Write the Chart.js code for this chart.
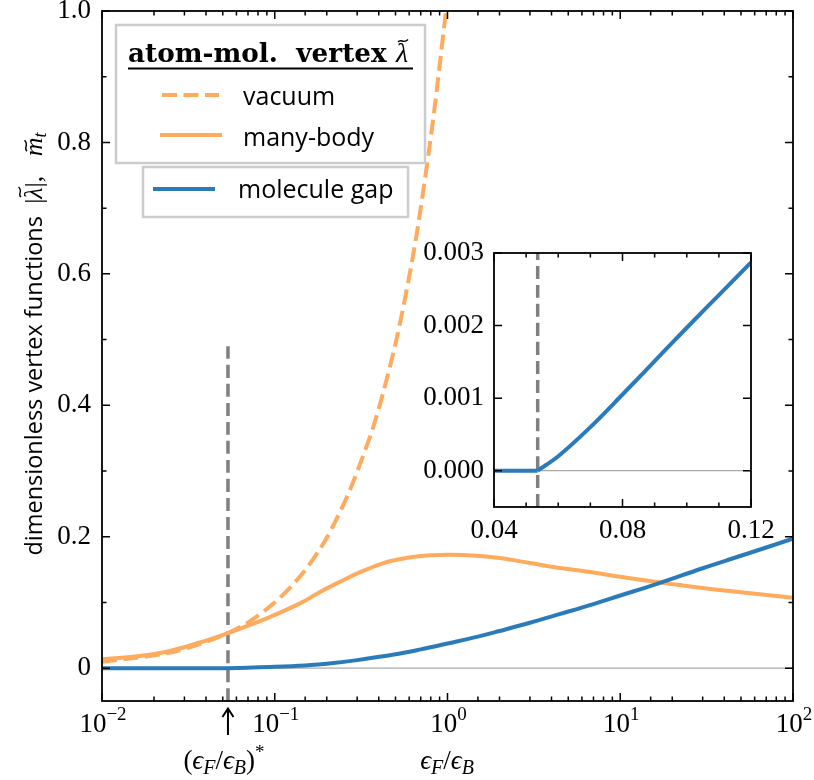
<!DOCTYPE html>
<html>
<head>
<meta charset="utf-8">
<script src="https://cdn.jsdelivr.net/npm/chart.js@4.4.0/dist/chart.umd.min.js"></script>
<style>
html, body { margin: 0; padding: 0; background: #fff; }
#wrap { position: relative; width: 814px; height: 780px; }
#main { position: absolute; left: 0; top: 0; }
#inset { position: absolute; left: 404px; top: 233px; }
</style>
</head>
<body>
<div id="wrap">
  <canvas id="main" width="814" height="780"></canvas>
  <canvas id="inset" width="400" height="310"></canvas>
</div>
<script>
// values
const criticalRatio = 0.0536;

const vacuumX = [0.01, 0.02, 0.03, 0.0536, 0.08, 0.12, 0.17, 0.23, 0.31, 0.41, 0.57, 0.76, 0.98, 1.05];
const vacuumY = [0.0097, 0.0195, 0.0295, 0.0535, 0.080, 0.120, 0.169, 0.229, 0.309, 0.405, 0.565, 0.765, 1.0, 1.075];

const manyBodyX = [0.01, 0.016, 0.0236, 0.0369, 0.0536, 0.0898, 0.14, 0.183, 0.239, 0.312, 0.406, 0.5, 0.7, 1, 1.4, 2, 3, 4.48, 7, 10, 16.3, 30, 50, 100];
const manyBodyY = [0.0137, 0.018, 0.025, 0.039, 0.0533, 0.0757, 0.0985, 0.116, 0.1315, 0.146, 0.158, 0.1645, 0.1705, 0.1725, 0.1715, 0.1675, 0.160, 0.1525, 0.1455, 0.139, 0.131, 0.122, 0.1155, 0.107];

const gapX = [0.01, 0.02, 0.03, 0.04, 0.0536, 0.07, 0.1, 0.15, 0.2, 0.3, 0.5, 0.7, 1, 1.5, 2, 3, 4.5, 7, 10, 16, 30, 50, 100];
const gapY = [0, 0, 0, 0, 0, 0.0007, 0.002, 0.0042, 0.0066, 0.0122, 0.021, 0.0285, 0.0375, 0.048, 0.0565, 0.069, 0.0825, 0.0975, 0.1105, 0.1275, 0.152, 0.171, 0.197];

const insetGapX = [0.04, 0.0536, 0.06, 0.07, 0.08, 0.09, 0.10, 0.11, 0.12];
const insetGapY = [0, 0, 0.00020, 0.00060, 0.00105, 0.00151, 0.00197, 0.00242, 0.00287];

const yTicks = [0, 0.1, 0.2, 0.3, 0.4, 0.5, 0.6, 0.7, 0.8, 0.9, 1.0];
const yLabelled = [0, 0.2, 0.4, 0.6, 0.8, 1.0];
const xDecades = [-2, -1, 0, 1, 2];
const insetXTicks = [0.04, 0.05, 0.06, 0.07, 0.08, 0.09, 0.10, 0.11, 0.12];
const insetXLabelled = [0.04, 0.08, 0.12];
const insetYTicks = [0, 0.001, 0.002, 0.003];

const ORANGE = '#ffab5e';
const BLUE = '#2b7bba';
const GREY = '#808080';
const SERIF = '"Liberation Serif", "DejaVu Serif", serif';
const SANS = '"Open Sans", "DejaVu Sans", sans-serif';

Chart.defaults.color = '#000';

const pts = (xs, ys) => xs.map((x, i) => ({ x: x, y: ys[i] }));
const near = (a, list) => list.some(v => Math.abs(v - a) < 1e-9);
// the gap is flat below the critical ratio, keep the corner sharp
const below = (xs, ys) => pts(xs, ys).filter(p => p.x <= criticalRatio + 1e-9);
const above = (xs, ys) => pts(xs, ys).filter(p => p.x >= criticalRatio - 1e-9);

function tilde(ctx, cx, y, w) {
    const x0 = cx - w / 2;
    ctx.save();
    ctx.lineWidth = 1.4;
    ctx.strokeStyle = '#000';
    ctx.beginPath();
    ctx.moveTo(x0, y + 1);
    ctx.bezierCurveTo(x0 + w * 0.3, y - 3, x0 + w * 0.55, y + 3.5, x0 + w, y - 1.5);
    ctx.stroke();
    ctx.restore();
}

// write a row of text pieces (for sub/superscripts), centred on x
function drawPieces(ctx, pieces, x, y, align) {
    let total = 0;
    pieces.forEach(p => { ctx.font = p.f; p.w = ctx.measureText(p.t).width; total += p.w; });
    let cx = align === 'left' ? x : x - total / 2;
    ctx.textAlign = 'left';
    ctx.textBaseline = 'alphabetic';
    pieces.forEach(p => {
        ctx.font = p.f;
        ctx.fillText(p.t, cx, y + (p.dy || 0));
        if (p.tilde) tilde(ctx, cx + p.w / 2 + p.tilde[0], y - p.tilde[1], p.tilde[2]);
        cx += p.w;
    });
    return total;
}

// inward ticks on all four sides plus the box
function drawFrame(chart, xMajor, yMajor) {
    const ctx = chart.ctx, a = chart.chartArea;
    const xs = chart.scales.x, ys = chart.scales.y;
    ctx.save();
    ctx.strokeStyle = '#000';
    ctx.lineWidth = 1.5;
    ctx.beginPath();
    xs.ticks.forEach(t => {
        const px = xs.getPixelForValue(t.value);
        if (px < a.left - 0.5 || px > a.right + 0.5) return;
        const len = xMajor(t.value) ? 8 : 4.5;
        ctx.moveTo(px, a.bottom); ctx.lineTo(px, a.bottom - len);
        ctx.moveTo(px, a.top); ctx.lineTo(px, a.top + len);
    });
    ys.ticks.forEach(t => {
        const py = ys.getPixelForValue(t.value);
        if (py < a.top - 0.5 || py > a.bottom + 0.5) return;
        const len = yMajor(t.value) ? 8 : 4.5;
        ctx.moveTo(a.left, py); ctx.lineTo(a.left + len, py);
        ctx.moveTo(a.right, py); ctx.lineTo(a.right - len, py);
    });
    ctx.stroke();
    ctx.lineWidth = 1.8;
    ctx.strokeRect(a.left, a.top, a.right - a.left, a.bottom - a.top);
    ctx.restore();
}

const mainDecor = {
    id: 'mainDecor',
    afterDatasetsDraw(chart) {
        drawFrame(chart,
            v => Math.abs(Math.log10(v) - Math.round(Math.log10(v))) < 1e-6,
            v => near(v, yLabelled));
    },
    afterDraw(chart) {
        const ctx = chart.ctx, xs = chart.scales.x;
        ctx.save();
        ctx.fillStyle = '#000';

        // x tick labels 10^n
        xDecades.forEach(n => {
            const px = xs.getPixelForValue(Math.pow(10, n));
            const exp = n < 0 ? '\u2212' + Math.abs(n) : String(n);
            drawPieces(ctx, [
                { t: '10', f: '27px ' + SERIF },
                { t: exp, f: '19px ' + SERIF, dy: -12 }
            ], px + 1, 732);
        });

        // x axis label and the critical ratio marker
        const it = '27px ' + SERIF, itI = 'italic 27px ' + SERIF, sub = 'italic 20px ' + SERIF;
        drawPieces(ctx, [
            { t: '\u03f5', f: itI }, { t: 'F', f: sub, dy: 5 }, { t: '/', f: it },
            { t: '\u03f5', f: itI }, { t: 'B', f: sub, dy: 5 }
        ], 447, 769);
        const cpx = xs.getPixelForValue(criticalRatio);
        drawPieces(ctx, [
            { t: '(', f: it }, { t: '\u03f5', f: itI }, { t: 'F', f: sub, dy: 5 }, { t: '/', f: it },
            { t: '\u03f5', f: itI }, { t: 'B', f: sub, dy: 5 }, { t: ')', f: it },
            { t: '*', f: '19px ' + SERIF, dy: -11 }
        ], cpx - 4, 769);
        ctx.strokeStyle = '#000';
        ctx.lineWidth = 2;
        ctx.beginPath();
        ctx.moveTo(cpx, 735); ctx.lineTo(cpx, 709);
        ctx.moveTo(cpx - 5.5, 717); ctx.lineTo(cpx, 708.5); ctx.lineTo(cpx + 5.5, 717);
        ctx.stroke();

        // y axis title
        ctx.save();
        ctx.translate(42, 344);
        ctx.rotate(-Math.PI / 2);
        drawPieces(ctx, [
            { t: 'dimensionless vertex functions  ', f: '23.5px ' + SANS },
            { t: '|', f: '26px ' + SERIF },
            { t: '\u03bb', f: 'italic 26px ' + SERIF, tilde: [1, 22, 10] },
            { t: '|,   ', f: '26px ' + SERIF },
            { t: 'm', f: 'italic 26px ' + SERIF, tilde: [1, 16, 11] },
            { t: 't', f: 'italic 18px ' + SERIF, dy: 4 }
        ], 0, 0);
        ctx.restore();

        // legends
        ctx.lineWidth = 2.5;
        ctx.strokeStyle = '#cccccc';
        ctx.fillStyle = 'rgba(255,255,255,0.85)';
        ctx.fillRect(116, 25, 309, 138);
        ctx.strokeRect(116, 25, 309, 138);
        ctx.fillRect(143, 167, 265, 50);
        ctx.strokeRect(143, 167, 265, 50);

        ctx.fillStyle = '#000';
        ctx.textAlign = 'left';
        const head = 'atom-mol.  vertex ';
        ctx.font = 'bold 24px "DejaVu Serif", serif';
        const size = 24 * 268 / ctx.measureText(head).width;
        ctx.font = 'bold ' + size.toFixed(1) + 'px "DejaVu Serif", serif';
        ctx.fillText(head, 128, 62);
        ctx.font = 'italic 28px ' + SERIF;
        ctx.fillText('\u03bb', 396, 62);
        tilde(ctx, 403, 41, 10);
        ctx.strokeStyle = '#000';
        ctx.lineWidth = 2;
        ctx.beginPath();
        ctx.moveTo(128, 68.5); ctx.lineTo(413, 68.5);
        ctx.stroke();

        ctx.lineWidth = 4;
        ctx.strokeStyle = ORANGE;
        ctx.setLineDash([15, 6.5]);
        ctx.beginPath(); ctx.moveTo(162, 95); ctx.lineTo(219, 95); ctx.stroke();
        ctx.setLineDash([]);
        ctx.beginPath(); ctx.moveTo(160, 135); ctx.lineTo(222, 135); ctx.stroke();
        ctx.strokeStyle = BLUE;
        ctx.beginPath(); ctx.moveTo(153, 189); ctx.lineTo(215, 189); ctx.stroke();

        ctx.font = '25px ' + SANS;
        ctx.fillText('vacuum', 243, 105);
        ctx.fillText('many-body', 243, 146);
        ctx.fillText('molecule gap', 238, 198);
        ctx.restore();
    }
};

const smooth = { cubicInterpolationMode: 'default', tension: 0.4 };

new Chart(document.getElementById('main'), {
    type: 'line',
    data: {
        datasets: [
            { label: 'molecule gap', data: above(gapX, gapY), borderColor: BLUE, borderWidth: 4, ...smooth },
            { label: 'molecule gap (flat)', data: below(gapX, gapY), borderColor: BLUE, borderWidth: 4 },
            { label: 'many-body', data: pts(manyBodyX, manyBodyY), borderColor: ORANGE, borderWidth: 4, ...smooth },
            { label: 'vacuum', data: pts(vacuumX, vacuumY), borderColor: ORANGE, borderWidth: 4, borderDash: [15, 6.5], ...smooth },
            { label: 'critical', data: pts([criticalRatio, criticalRatio], [-0.05, 0.49]), borderColor: GREY, borderWidth: 3.5, borderDash: [13, 6] },
            { label: 'zero', data: pts([0.01, 100], [0, 0]), borderColor: '#aaaaaa', borderWidth: 1.3 }
        ]
    },
    options: {
        responsive: false,
        animation: false,
        elements: { point: { radius: 0 }, line: { cubicInterpolationMode: 'monotone' } },
        layout: { padding: { top: 11, right: 21, left: 0, bottom: 0 } },
        plugins: { legend: { display: false }, tooltip: { enabled: false } },
        scales: {
            x: {
                type: 'logarithmic',
                min: 0.01,
                max: 100,
                grid: { display: false, drawTicks: false },
                border: { display: false },
                ticks: { display: false },
                afterFit: s => { s.height = 79; s.paddingLeft = 0; s.paddingRight = 0; }
            },
            y: {
                min: -0.05,
                max: 1.0,
                grid: { display: false, drawTicks: false },
                border: { display: false },
                afterBuildTicks: s => { s.ticks = yTicks.map(v => ({ value: v })); },
                ticks: {
                    autoSkip: false,
                    padding: 11,
                    font: { family: SERIF, size: 27 },
                    callback: v => near(v, yLabelled) ? (v === 0 ? '0' : v.toFixed(1)) : ''
                },
                afterFit: s => { s.width = 102; s.paddingTop = 0; s.paddingBottom = 0; }
            }
        }
    },
    plugins: [mainDecor]
});

const insetDecor = {
    id: 'insetDecor',
    beforeDatasetsDraw(chart) {
        const ctx = chart.ctx, a = chart.chartArea;
        ctx.save();
        ctx.fillStyle = '#fff';
        ctx.fillRect(a.left, a.top, a.right - a.left, a.bottom - a.top);
        ctx.restore();
    },
    afterDatasetsDraw(chart) {
        drawFrame(chart, v => near(v, insetXLabelled), v => true);
    }
};

new Chart(document.getElementById('inset'), {
    type: 'line',
    data: {
        datasets: [
            { label: 'molecule gap', data: above(insetGapX, insetGapY), borderColor: BLUE, borderWidth: 4 },
            { label: 'molecule gap (flat)', data: below(insetGapX, insetGapY), borderColor: BLUE, borderWidth: 4 },
            { label: 'critical', data: pts([criticalRatio, criticalRatio], [-0.0005, 0.003]), borderColor: GREY, borderWidth: 3.5, borderDash: [13, 6] },
            { label: 'zero', data: pts([0.04, 0.12], [0, 0]), borderColor: '#aaaaaa', borderWidth: 1.3 }
        ]
    },
    options: {
        responsive: false,
        animation: false,
        elements: { point: { radius: 0 }, line: { cubicInterpolationMode: 'monotone' } },
        layout: { padding: { top: 20, right: 53, left: 0, bottom: 0 } },
        plugins: { legend: { display: false }, tooltip: { enabled: false } },
        scales: {
            x: {
                type: 'linear',
                min: 0.04,
                max: 0.12,
                grid: { display: false, drawTicks: false },
                border: { display: false },
                afterBuildTicks: s => { s.ticks = insetXTicks.map(v => ({ value: v })); },
                ticks: {
                    autoSkip: false,
                    maxRotation: 0,
                    padding: 8,
                    font: { family: SERIF, size: 27 },
                    callback: v => near(v, insetXLabelled) ? v.toFixed(2) : ''
                },
                afterFit: s => { s.height = 36; s.paddingLeft = 0; s.paddingRight = 0; }
            },
            y: {
                min: -0.0005,
                max: 0.003,
                grid: { display: false, drawTicks: false },
                border: { display: false },
                afterBuildTicks: s => { s.ticks = insetYTicks.map(v => ({ value: v })); },
                ticks: {
                    autoSkip: false,
                    padding: 10,
                    font: { family: SERIF, size: 27 },
                    callback: v => v.toFixed(3)
                },
                afterFit: s => { s.width = 90; s.paddingTop = 0; s.paddingBottom = 0; }
            }
        }
    },
    plugins: [insetDecor]
});
</script>
</body>
</html>
